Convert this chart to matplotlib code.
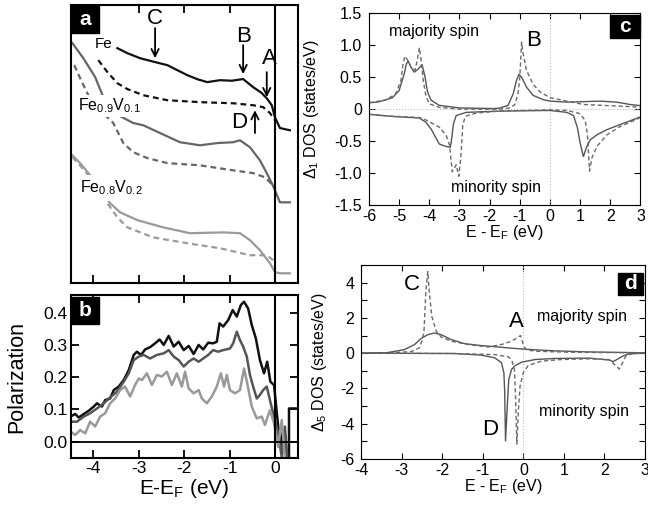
import numpy as np
import matplotlib.pyplot as plt
from matplotlib.patches import Rectangle
from matplotlib.ticker import MultipleLocator

plt.rcParams['font.family'] = ['Liberation Sans', 'DejaVu Sans']
plt.rcParams['mathtext.fontset'] = 'custom'
plt.rcParams['mathtext.rm'] = 'Liberation Sans'
plt.rcParams['mathtext.it'] = 'Liberation Sans:italic'
plt.rcParams['mathtext.bf'] = 'Liberation Sans:bold'
plt.rcParams['axes.unicode_minus'] = False

# ---- panel a: spectra, offset (arb. units) ----
fe_x = [-3.47, -3.25, -2.97, -2.64, -2.37, -2.15, -1.93, -1.70, -1.49, -1.21, -0.95, -0.70, -0.48, -0.30, -0.18, -0.07, 0.0, 0.11, 0.33]
fe_y = [8.45, 8.27, 8.09, 7.95, 7.84, 7.66, 7.48, 7.33, 7.23, 7.30, 7.28, 7.34, 7.05, 6.85, 6.65, 6.40, 5.97, 5.58, 5.50]
fe_d_x = [-3.89, -3.69, -3.47, -3.25, -2.90, -2.37, -1.65, -0.92, -0.48, -0.26, -0.11, 0.0]
fe_d_y = [8.02, 7.59, 7.19, 6.98, 6.76, 6.58, 6.51, 6.47, 6.40, 6.33, 6.12, 5.86]
v1_x = [-4.46, -4.22, -3.96, -3.78, -3.45, -3.12, -2.90, -2.53, -2.09, -1.65, -1.27, -0.92, -0.77, -0.55, -0.33, -0.18, -0.07, 0.0, 0.11, 0.33]
v1_y = [8.63, 8.09, 7.41, 6.69, 6.04, 5.76, 5.68, 5.40, 5.07, 4.96, 5.04, 5.07, 5.14, 4.89, 4.42, 3.96, 3.60, 3.35, 2.91, 2.91]
v1_d_x = [-4.42, -4.29, -4.11, -3.85, -3.56, -3.34, -3.12, -2.81, -2.37, -1.65, -0.92, -0.48, -0.22, -0.11, 0.0]
v1_d_y = [7.84, 7.37, 6.76, 6.22, 5.76, 5.04, 4.71, 4.50, 4.32, 4.24, 4.06, 3.96, 3.81, 3.63, 3.42]
v2_x = [-4.51, -4.29, -4.02, -3.80, -3.63, -3.41, -3.03, -2.46, -1.87, -1.14, -0.77, -0.55, -0.33, -0.11, 0.0, 0.11, 0.33]
v2_y = [4.68, 4.32, 3.78, 3.27, 2.88, 2.55, 2.27, 2.01, 1.80, 1.83, 1.80, 1.55, 1.19, 0.72, 0.40, 0.36, 0.36]
v2_d_x = [-4.46, -4.24, -4.02, -3.74, -3.47, -3.25, -2.68, -1.93, -1.21, -0.55, -0.18, -0.04, 0.0]
v2_d_y = [4.53, 4.14, 3.71, 2.99, 2.37, 2.01, 1.65, 1.44, 1.26, 1.01, 1.01, 0.83, 0.72]

# ---- panel b: polarization ----
pol_fe_x = [-4.50, -4.40, -4.32, -4.21, -4.10, -3.99, -3.92, -3.81, -3.74, -3.63,
            -3.55, -3.44, -3.33, -3.22, -3.11, -3.04, -2.95, -2.86, -2.75, -2.64,
            -2.54, -2.45, -2.34, -2.23, -2.12, -2.01, -1.90, -1.79, -1.68, -1.58,
            -1.47, -1.36, -1.28, -1.22, -1.14, -1.03, -0.93, -0.84, -0.75, -0.68,
            -0.59, -0.51, -0.42, -0.33, -0.24, -0.17, -0.10, -0.02, 0.05, 0.12,
            0.18, 0.24, 0.31, 0.31, 0.53]
pol_fe_y = [0.078, 0.086, 0.075, 0.086, 0.096, 0.109, 0.119, 0.109, 0.129, 0.134,
            0.160, 0.171, 0.191, 0.222, 0.269, 0.279, 0.269, 0.286, 0.293, 0.305,
            0.317, 0.300, 0.328, 0.295, 0.310, 0.284, 0.297, 0.272, 0.300, 0.286,
            0.307, 0.305, 0.310, 0.367, 0.357, 0.377, 0.408, 0.388, 0.424, 0.434,
            0.413, 0.362, 0.320, 0.253, 0.212, 0.248, 0.186, 0.176, 0.078, -0.016,
            0.036, -0.047, -0.047, 0.103, 0.103]
pol_v1_x = [-4.50, -4.36, -4.21, -4.07, -3.92, -3.77, -3.63, -3.48, -3.33, -3.22,
            -3.11, -3.00, -2.89, -2.75, -2.60, -2.45, -2.34, -2.23, -2.12, -2.01,
            -1.90, -1.79, -1.68, -1.58, -1.47, -1.36, -1.25, -1.14, -0.99, -0.92,
            -0.84, -0.77, -0.70, -0.62, -0.55, -0.48, -0.40, -0.33, -0.26, -0.18,
            -0.11, -0.02, 0.07, 0.15, 0.22, 0.27]
pol_v1_y = [0.062, 0.062, 0.078, 0.088, 0.103, 0.119, 0.137, 0.155, 0.186, 0.212,
            0.253, 0.264, 0.269, 0.258, 0.269, 0.274, 0.284, 0.264, 0.253, 0.233,
            0.248, 0.258, 0.248, 0.258, 0.269, 0.284, 0.279, 0.284, 0.289, 0.305,
            0.341, 0.315, 0.295, 0.264, 0.207, 0.171, 0.134, 0.145, 0.160, 0.171,
            0.129, 0.078, 0.026, -0.047, 0.047, -0.047]
pol_v2_x = [-4.50, -4.40, -4.29, -4.18, -4.07, -3.96, -3.85, -3.74, -3.63, -3.52,
            -3.41, -3.30, -3.19, -3.08, -3.00, -2.93, -2.82, -2.71, -2.60, -2.49,
            -2.38, -2.27, -2.16, -2.05, -1.98, -1.90, -1.79, -1.68, -1.61, -1.50,
            -1.39, -1.28, -1.19, -1.12, -1.06, -0.99, -0.88, -0.77, -0.68, -0.61,
            -0.51, -0.40, -0.29, -0.22, -0.11, -0.02, 0.07, 0.15, 0.22]
pol_v2_y = [0.031, 0.021, 0.036, 0.026, 0.062, 0.047, 0.078, 0.088, 0.119, 0.134,
            0.160, 0.171, 0.140, 0.176, 0.196, 0.191, 0.212, 0.176, 0.207, 0.202,
            0.217, 0.176, 0.212, 0.171, 0.217, 0.165, 0.150, 0.160, 0.134, 0.119,
            0.140, 0.171, 0.212, 0.171, 0.207, 0.160, 0.150, 0.160, 0.227, 0.181,
            0.109, 0.072, 0.078, 0.052, 0.098, 0.057, -0.016, 0.067, -0.047]

# ---- panel c: Delta1 DOS ----
c_up_x = [-6.0, -5.67, -5.22, -5.00, -4.83, -4.76, -4.70, -4.61, -4.50, -4.39, -4.24, -4.14, -4.06, -3.94, -3.67, -3.00, -1.89,
          -1.67, -1.39, -1.22, -1.11, -1.03, -0.94, -0.78, -0.56, -0.22, 0.0, 0.56, 1.67, 2.22, 2.67, 3.0]
c_up_y = [0.10, 0.115, 0.18, 0.293, 0.556, 0.71, 0.753, 0.66, 0.58, 0.618, 0.697, 0.50, 0.27, 0.14, 0.06, 0.02, 0.01,
          0.016, 0.06, 0.24, 0.45, 0.546, 0.50, 0.347, 0.216, 0.148, 0.127, 0.11, 0.126, 0.11, 0.072, 0.056]
c_up_d_x = [-6.0, -5.44, -5.11, -4.94, -4.87, -4.81, -4.72, -4.61, -4.47, -4.40, -4.33, -4.27, -4.20, -4.11, -4.00, -3.67, -3.00,
            -1.67, -1.33, -1.17, -1.06, -1.00, -0.94, -0.89, -0.78, -0.56, -0.33, 0.0, 0.33, 1.11, 3.0]
c_up_d_y = [0.10, 0.145, 0.24, 0.45, 0.71, 0.83, 0.765, 0.66, 0.61, 0.765, 0.963, 0.765, 0.45, 0.20, 0.084, 0.03, 0.0,
            0.0, 0.021, 0.068, 0.24, 0.50, 1.05, 0.87, 0.61, 0.39, 0.27, 0.18, 0.148, 0.074, 0.032]
c_dn_x = [-6.0, -5.22, -4.33, -4.11, -3.94, -3.78, -3.67, -3.50, -3.31, -3.28, -3.20, -3.11, -2.78, -1.67,
          0.0, 0.56, 0.78, 0.91, 1.00, 1.09, 1.11, 1.20, 1.33, 1.56, 1.89, 2.33, 2.78, 3.0]
c_dn_y = [-0.08, -0.114, -0.138, -0.206, -0.311, -0.45, -0.545, -0.575, -0.597, -0.54, -0.23, -0.10, -0.05, -0.03,
          -0.02, -0.05, -0.10, -0.29, -0.53, -0.71, -0.74, -0.61, -0.48, -0.40, -0.32, -0.24, -0.16, -0.12]
c_dn_d_x = [-6.0, -5.22, -4.33, -4.11, -3.67, -3.44, -3.33, -3.24, -3.11, -3.02, -2.94, -2.89, -2.80, -2.44, -1.67,
            0.0, 0.56, 1.00, 1.17, 1.24, 1.31, 1.39, 1.56, 1.89, 2.33, 2.78, 3.0]
c_dn_d_y = [-0.08, -0.11, -0.13, -0.17, -0.28, -0.41, -0.56, -0.98, -0.87, -1.05, -0.66, -0.24, -0.11, -0.06, -0.03,
            -0.01, -0.02, -0.07, -0.18, -0.39, -0.97, -0.76, -0.58, -0.40, -0.27, -0.18, -0.13]

# ---- panel d: Delta5 DOS ----
d_up_x = [-4.0, -3.36, -2.94, -2.69, -2.53, -2.36, -2.20, -2.03, -1.78, -1.45, -1.04, -0.62, -0.29, -0.04, 0.37, 0.79, 1.62, 2.45, 3.0]
d_up_y = [0.0, 0.03, 0.20, 0.48, 0.82, 1.05, 1.14, 1.05, 0.77, 0.54, 0.43, 0.35, 0.28, 0.24, 0.18, 0.13, 0.07, 0.04, 0.02]
d_up_d_x = [-4.0, -3.36, -2.77, -2.57, -2.49, -2.45, -2.41, -2.36, -2.32, -2.26, -2.15, -2.03, -1.78, -1.37, -0.87,
            -0.54, -0.29, -0.12, -0.07, 0.0, 0.06, 0.29, 1.20, 3.0]
d_up_d_y = [0.0, 0.01, 0.09, 0.30, 0.77, 1.33, 3.40, 4.62, 3.40, 2.09, 1.24, 0.92, 0.68, 0.49, 0.35,
            0.49, 0.68, 0.92, 1.00, 0.49, 0.20, 0.11, 0.05, 0.02]
d_dn_x = [-4.0, -1.70, -1.04, -0.71, -0.54, -0.48, -0.46, -0.44, -0.40, -0.36, -0.29, -0.20, -0.04, 0.29, 0.79, 1.62,
          2.12, 2.22, 2.45, 2.61, 3.0]
d_dn_y = [0.0, -0.02, -0.11, -0.26, -0.54, -1.11, -2.20, -4.97, -3.18, -1.49, -0.92, -0.70, -0.51, -0.36, -0.30, -0.28,
          -0.39, -0.48, -0.17, -0.04, 0.0]
d_dn_d_x = [-4.0, -1.70, -0.71, -0.37, -0.29, -0.22, -0.19, -0.16, -0.12, -0.08, 0.0, 0.12, 0.45, 0.95, 1.62,
            2.12, 2.37, 2.45, 2.53, 2.69, 3.0]
d_dn_d_y = [0.0, -0.02, -0.08, -0.21, -0.36, -0.92, -2.62, -5.15, -3.18, -1.86, -1.11, -0.70, -0.45, -0.36, -0.32,
            -0.36, -0.90, -0.54, -0.17, -0.02, 0.0]

b_yticks = [0.0, 0.1, 0.2, 0.3, 0.4]
b_yticklabels = ['0.0', '0.1', '0.2', '0.3', '0.4']
c_yticks = [-1.5, -1.0, -0.5, 0, 0.5, 1.0, 1.5]
c_yticklabels = ['-1.5', '-1.0', '-0.5', '0', '0.5', '1.0', '1.5']


def tag(ax, s, x0, y0, w, h):
    ax.add_patch(Rectangle((x0, y0), w, h, transform=ax.transAxes, color='black', zorder=6, clip_on=False))
    ax.text(x0 + w / 2, y0 + h / 2, s, transform=ax.transAxes, color='white', fontweight='bold',
            ha='center', va='center', fontsize=15, zorder=7)


fig = plt.figure(figsize=(6.48, 5.05), dpi=100)
axa = fig.add_axes([0.109, 0.439, 0.3503, 0.551])
axb = fig.add_axes([0.109, 0.0925, 0.3503, 0.3234])
axc = fig.add_axes([0.5694, 0.594, 0.419, 0.3796])
axd = fig.add_axes([0.5576, 0.0911, 0.4375, 0.3842])

for ax in (axa, axb):
    for sp in ax.spines.values():
        sp.set_linewidth(1.5)

# panel a
dash = (0, (2.6, 1.8))
axa.plot(fe_x, fe_y, color='#111111', lw=1.6)
axa.plot(fe_d_x, fe_d_y, color='#111111', lw=1.6, ls=dash)
axa.plot(v1_x, v1_y, color='#666666', lw=1.6)
axa.plot(v1_d_x, v1_d_y, color='#666666', lw=1.6, ls=dash)
axa.plot(v2_x, v2_y, color='#9a9a9a', lw=1.6)
axa.plot(v2_d_x, v2_d_y, color='#9a9a9a', lw=1.6, ls=dash)
axa.axvline(0, color='black', lw=1.5)
axa.set_xlim(-4.5, 0.5)
axa.set_ylim(0, 10)
axa.set_yticks([])
axa.set_xticks([-4, -3, -2, -1])
axa.tick_params(axis='x', direction='in', top=True, labelbottom=False, length=6, width=1.3)
axa.text(-3.78, 8.6, 'Fe', fontsize=11, ha='center', va='center')
axa.text(-3.65, 6.37, r'Fe$_{0.9}$V$_{0.1}$', fontsize=11.5, ha='center', va='center', zorder=4,
         bbox=dict(fc='white', ec='none', pad=1.5))
axa.text(-3.60, 3.42, r'Fe$_{0.8}$V$_{0.2}$', fontsize=11.5, ha='center', va='center', zorder=4,
         bbox=dict(fc='white', ec='none', pad=2.5))
arr = dict(arrowstyle='->', lw=1.3, color='black', shrinkA=0, shrinkB=0, mutation_scale=13)
axa.annotate('', xy=(-2.64, 8.09), xytext=(-2.64, 9.17), arrowprops=arr)
axa.text(-2.64, 9.50, 'C', fontsize=16, ha='center', va='center')
axa.annotate('', xy=(-0.70, 7.52), xytext=(-0.70, 8.56), arrowprops=arr)
axa.text(-0.70, 8.88, 'B', fontsize=16, ha='center', va='center')
axa.annotate('', xy=(-0.18, 6.69), xytext=(-0.18, 7.59), arrowprops=arr)
axa.text(-0.13, 8.09, 'A', fontsize=16, ha='center', va='center')
axa.annotate('', xy=(-0.44, 6.22), xytext=(-0.44, 5.40), arrowprops=arr)
axa.text(-0.79, 5.79, 'D', fontsize=16, ha='center', va='center')
tag(axa, 'a', 0, 0.899, 0.124, 0.101)

# panel b
axb.plot(pol_fe_x, pol_fe_y, color='#111111', lw=1.8)
axb.plot(pol_v1_x, pol_v1_y, color='#555555', lw=1.8)
axb.plot(pol_v2_x, pol_v2_y, color='#999999', lw=1.8)
axb.axhline(0, color='black', lw=1.3)
axb.axvline(0, color='black', lw=1.5)
axb.set_xlim(-4.5, 0.5)
axb.set_ylim(-0.0515, 0.455)
axb.set_xticks([-4, -3, -2, -1, 0])
axb.set_yticks(b_yticks)
axb.set_yticklabels(b_yticklabels)
axb.tick_params(direction='in', top=True, right=True, length=6, width=1.3, labelsize=12.5, pad=2)
axb.set_xlabel(r'E-E$_\mathrm{F}$ (eV)', fontsize=15)
axb.set_ylabel('Polarization', fontsize=15.5)
axb.yaxis.set_label_coords(-0.19, 0.5)
axb.xaxis.set_label_coords(0.5, -0.115)
tag(axb, 'b', 0, 0.82, 0.125, 0.165)

# panel c
sol = dict(color='#555555', lw=1.0)
dsh = dict(color='#6a6a6a', lw=1.0, ls=(0, (3, 2)))
axc.axhline(0, color='#bbbbbb', lw=0.8, ls=':')
axc.axvline(0, color='#bbbbbb', lw=0.8, ls=':')
axc.plot(c_up_x, c_up_y, **sol)
axc.plot(c_up_d_x, c_up_d_y, **dsh)
axc.plot(c_dn_x, c_dn_y, **sol)
axc.plot(c_dn_d_x, c_dn_d_y, **dsh)
axc.set_xlim(-6, 3)
axc.set_ylim(-1.5, 1.5)
axc.xaxis.set_major_locator(MultipleLocator(1))
axc.set_yticks(c_yticks)
axc.set_yticklabels(c_yticklabels)
axc.tick_params(direction='in', top=True, right=True, length=4, width=0.8, labelsize=11.5)
axc.tick_params(axis='x', pad=3)
axc.tick_params(axis='y', pad=5)
axc.set_xlabel(r'E - E$_\mathrm{F}$ (eV)', fontsize=11.5)
axc.set_ylabel(r'$\Delta_1$ DOS (states/eV)', fontsize=11.5)
axc.yaxis.set_label_coords(-0.175, 0.5)
axc.xaxis.set_label_coords(0.5, -0.095)
axc.text(-3.83, 1.21, 'majority spin', fontsize=11.5, ha='center', va='center')
axc.text(-1.78, -1.23, 'minority spin', fontsize=11.5, ha='center', va='center')
axc.text(-0.56, 1.07, 'B', fontsize=16, ha='center', va='center')
tag(axc, 'c', 0.888, 0.869, 0.11, 0.121)

# panel d
axd.axvline(0, color='#bbbbbb', lw=0.8, ls=':')
axd.plot(d_up_x, d_up_y, **sol)
axd.plot(d_up_d_x, d_up_d_y, **dsh)
axd.plot(d_dn_x, d_dn_y, **sol)
axd.plot(d_dn_d_x, d_dn_d_y, **dsh)
axd.set_xlim(-4, 3)
axd.set_ylim(-6, 5)
axd.xaxis.set_major_locator(MultipleLocator(1))
axd.yaxis.set_major_locator(MultipleLocator(2))
axd.yaxis.set_minor_locator(MultipleLocator(1))
axd.tick_params(which='both', direction='in', top=True, right=True, length=4, width=0.8, labelsize=11.5)
axd.tick_params(axis='x', pad=3)
axd.tick_params(axis='y', pad=5)
axd.set_xlabel(r'E - E$_\mathrm{F}$ (eV)', fontsize=11.5)
axd.set_ylabel(r'$\Delta_5$ DOS (states/eV)', fontsize=11.5)
axd.yaxis.set_label_coords(-0.115, 0.5)
axd.xaxis.set_label_coords(0.5, -0.095)
axd.text(-2.74, 3.87, 'C', fontsize=16, ha='center', va='center')
axd.text(-0.16, 1.78, 'A', fontsize=16, ha='center', va='center')
axd.text(-0.83, -4.31, 'D', fontsize=16, ha='center', va='center')
axd.text(1.46, 2.06, 'majority spin', fontsize=11.5, ha='center', va='center')
axd.text(1.49, -3.29, 'minority spin', fontsize=11.5, ha='center', va='center')
tag(axd, 'd', 0.905, 0.846, 0.09, 0.113)

fig.savefig('out.png', dpi=100)
